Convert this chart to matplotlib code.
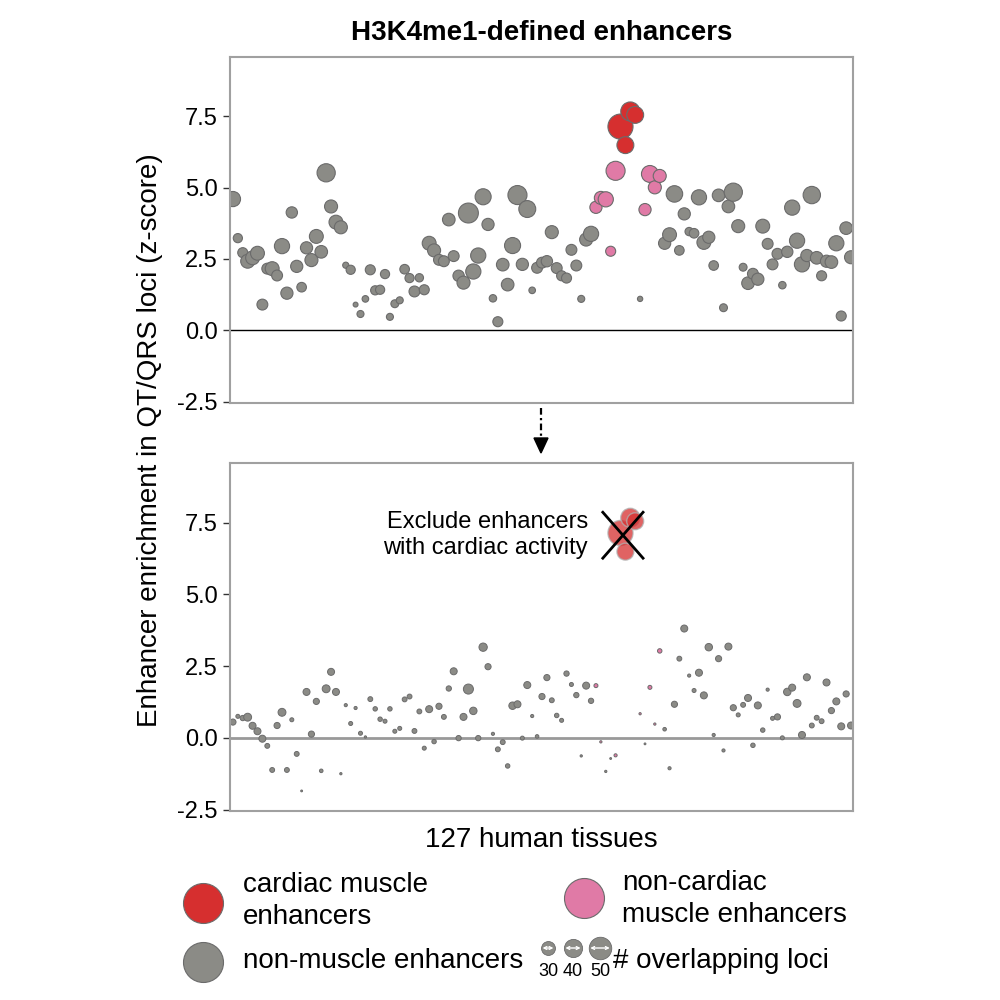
import matplotlib
matplotlib.use("Agg")
import matplotlib.pyplot as plt
import numpy as np
from matplotlib.lines import Line2D

plt.rcParams['font.family'] = ['Liberation Sans', 'DejaVu Sans']

# z-scores per tissue (127 tissues)
top_z = [4.60, 3.23, 2.72, 2.42, 2.54, 2.70, 0.90, 2.16, 2.16, 1.92,
         2.95, 1.30, 4.13, 2.24, 1.51, 2.89, 2.46, 3.29, 2.75, 5.52,
         4.34, 3.79, 3.61, 2.28, 2.12, 0.90, 0.57, 1.10, 2.12, 1.40,
         1.42, 1.97, 0.47, 0.93, 1.05, 2.14, 1.83, 1.36, 1.84, 1.42,
         3.05, 2.80, 2.47, 2.42, 3.88, 2.60, 1.91, 1.67, 4.11, 2.06,
         2.62, 4.68, 3.71, 1.12, 0.30, 2.30, 1.60, 2.97, 4.74, 2.31,
         4.25, 1.40, 2.19, 2.37, 2.42, 3.44, 2.18, 1.91, 1.83, 2.82,
         2.27, 1.10, 3.18, 3.38, 4.31, 4.64, 4.59, 2.77, 5.59, 7.14,
         6.49, 7.67, 7.55, 1.10, 4.23, 5.48, 5.01, 5.41, 3.05, 3.35,
         4.78, 2.80, 4.08, 3.46, 3.40, 4.66, 3.08, 3.26, 2.27, 4.73,
         0.79, 4.34, 4.84, 3.65, 2.21, 1.65, 1.98, 1.79, 3.65, 3.03,
         2.31, 2.68, 1.58, 2.75, 4.30, 3.14, 2.31, 2.62, 4.74, 2.54,
         1.91, 2.42, 2.39, 3.05, 0.50, 3.58, 2.56]
top_loci = [33, 19, 21, 30, 30, 30, 23, 23, 30, 23,
            33, 26, 24, 26, 20, 26, 28, 30, 27, 40,
            28, 30, 28, 12, 19, 9, 14, 13, 21, 19,
            19, 19, 14, 16, 14, 20, 19, 23, 17, 21,
            30, 28, 23, 23, 27, 23, 24, 28, 44, 33,
            33, 35, 26, 15, 21, 27, 27, 35, 42, 26,
            37, 13, 23, 23, 24, 28, 23, 21, 21, 23,
            23, 14, 28, 33, 26, 28, 33, 21, 42, 56,
            37, 42, 37, 10, 26, 37, 28, 28, 26, 30,
            36, 20, 26, 17, 20, 33, 30, 26, 20, 27,
            16, 27, 40, 28, 16, 27, 23, 26, 30, 23,
            23, 23, 15, 24, 33, 33, 33, 26, 38, 27,
            21, 26, 27, 33, 21, 27, 28]
top_cardiac = [79, 80, 81, 82]
top_muscle = [74, 75, 76, 77, 78, 84, 85, 86, 87]

# after excluding enhancers with cardiac activity (nan = excluded tissue)
bottom_z = [0.55, 0.75, 0.69, 0.72, 0.42, 0.23, -0.03, -0.28, -1.12, 0.43,
            0.89, -1.12, 0.63, -0.56, -1.85, 1.60, 0.13, 1.27, -1.15, 1.71,
            2.30, 1.60, -1.25, 1.14, 0.50, 1.04, 0.16, 0.03, 1.35, 1.01,
            0.65, 0.58, 1.01, 0.23, 0.33, 1.34, 1.44, 0.24, 0.92, -0.36,
            1.00, -0.13, 1.10, 0.73, 1.72, 2.32, -0.01, 0.73, 1.70, 0.94,
            -0.01, 3.16, 2.48, 0.14, -0.40, -0.15, -0.98, 1.12, 1.17, -0.01,
            1.84, 0.76, 0.05, 1.44, 2.10, 1.31, 0.78, 0.61, 2.24, 1.86,
            1.49, -0.63, 1.82, 1.29, 1.82, -0.14, -1.17, -0.72, -0.61, np.nan,
            np.nan, np.nan, np.nan, 0.84, -0.21, 1.76, 0.48, 3.03, 0.30, -1.06,
            1.17, 2.76, 3.81, 2.17, 1.65, 2.27, 1.48, 3.16, 0.10, 2.76,
            -0.44, 3.18, 1.05, 0.80, 1.15, 1.39, -0.26, 1.13, 0.27, 1.68,
            0.68, 0.73, 0.00, 1.60, 1.75, 1.20, 0.10, 2.11, 0.43, 0.70,
            0.58, 1.93, 0.95, 1.27, 0.40, 1.53, 0.43]
bottom_loci = [12, 7, 10, 16, 14, 14, 14, 9, 9, 12,
               16, 9, 7, 9, 2, 14, 12, 12, 6, 16,
               14, 14, 3, 5, 7, 5, 7, 3, 9, 8,
               8, 7, 8, 7, 7, 9, 9, 9, 9, 7,
               14, 8, 12, 9, 10, 14, 10, 14, 21, 15,
               10, 17, 12, 5, 9, 9, 8, 15, 14, 7,
               14, 5, 6, 12, 12, 9, 8, 7, 10, 7,
               10, 3, 14, 10, 7, 3, 3, 2, 5, 0,
               0, 0, 0, 3, 2, 7, 3, 8, 6, 5,
               12, 9, 14, 5, 7, 14, 14, 15, 5, 12,
               5, 14, 12, 7, 9, 14, 8, 14, 8, 5,
               7, 12, 7, 15, 14, 16, 14, 14, 9, 9,
               9, 14, 12, 14, 14, 12, 14]
bottom_muscle = [74, 75, 78, 83, 85, 86, 87]

legend_loci = [30, 40, 50]

GRAY = '#8b8b86'
RED = '#d62f2f'
PINK = '#e07aa6'
EDGE = '#6b6b6b'


def marker_area(loci):
    # circle diameter in px grows linearly with # overlapping loci
    d_px = 1 + 0.43 * np.asarray(loci, dtype=float)
    return (d_px * 0.72) ** 2


def colors_for(n, muscle, cardiac=()):
    c = [GRAY] * n
    for i in muscle:
        c[i] = PINK
    for i in cardiac:
        c[i] = RED
    return c


x = np.arange(len(top_z))
top_z = np.array(top_z)
bottom_z = np.array(bottom_z)

fig = plt.figure(figsize=(10, 10), dpi=100)
ax1 = fig.add_axes([0.23, 0.597, 0.623, 0.346])
ax2 = fig.add_axes([0.23, 0.189, 0.623, 0.348])

for ax in (ax1, ax2):
    ax.set_xlim(-0.6, 126.4)
    ax.set_ylim(-2.55, 9.58)
    ax.set_yticks([-2.5, 0.0, 2.5, 5.0, 7.5])
    ax.set_yticklabels(['-2.5', '0.0', '2.5', '5.0', '7.5'])
    ax.set_xticks([])
    ax.tick_params(axis='y', length=5, width=1, color='#333333',
                   labelsize=17, pad=4)
    for s in ax.spines.values():
        s.set_color('#a0a0a0')
        s.set_linewidth(1.5)

# top panel
ax1.axhline(0, color='black', lw=1, zorder=1)
ax1.scatter(x, top_z, s=marker_area(top_loci),
            c=colors_for(len(x), top_muscle, top_cardiac),
            edgecolors=EDGE, linewidths=0.8, zorder=2)

# bottom panel
ax2.axhline(0, color='#999999', lw=2, zorder=1)
keep = ~np.isnan(bottom_z)
bcol = np.array(colors_for(len(x), bottom_muscle))
ax2.scatter(x[keep], bottom_z[keep], s=marker_area(np.array(bottom_loci)[keep]),
            c=bcol[keep], edgecolors=EDGE, linewidths=0.7, zorder=2)

# excluded cardiac enhancers, faded and crossed out
cx = x[top_cardiac]
cz = top_z[top_cardiac]
ax2.scatter(cx, cz, s=marker_area(np.array(top_loci)[top_cardiac]),
            c=RED, alpha=0.75, edgecolors='#b0b0b0', linewidths=1, zorder=3)
mx, mz = cx.mean() - 1.0, cz.mean() - 0.15
ax2.plot([mx - 4.1, mx + 4.1], [mz + 0.8, mz - 0.8], color='black', lw=2, zorder=4)
ax2.plot([mx - 4.1, mx + 4.1], [mz - 0.8, mz + 0.8], color='black', lw=2, zorder=4)
ax2.text(mx - 7.1, mz + 0.0, 'Exclude enhancers\nwith cardiac activity',
         ha='right', va='center', fontsize=17, linespacing=1.25)

# titles and labels
fig.text(0.5415, 0.967, 'H3K4me1-defined enhancers', ha='center', va='center',
         fontsize=20, fontweight='bold')
fig.text(0.150, 0.56, 'Enhancer enrichment in QT/QRS loci (z-score)',
         rotation=90, ha='center', va='center', fontsize=20)
fig.text(0.5415, 0.160, '127 human tissues', ha='center', va='center', fontsize=20)

# dashed arrow between the panels
fig.add_artist(Line2D([0.541, 0.541], [0.592, 0.560], color='black', lw=1.6,
                      linestyle=(0, (3, 1.5, 1, 1.5))))
fig.add_artist(plt.Polygon([[0.534, 0.562], [0.548, 0.562], [0.541, 0.547]],
                           closed=True, color='black', transform=fig.transFigure))

# legend
leg = fig.add_axes([0, 0, 1, 1])
leg.set_xlim(0, 1000)
leg.set_ylim(1000, 0)
leg.axis('off')
big = (40 * 0.72) ** 2
leg.scatter([203], [903], s=big, c=RED, edgecolors=EDGE, linewidths=0.8)
leg.scatter([584], [898], s=big, c=PINK, edgecolors=EDGE, linewidths=0.8)
leg.scatter([203], [962], s=big, c=GRAY, edgecolors=EDGE, linewidths=0.8)
leg.text(243, 901, 'cardiac muscle\nenhancers', ha='left', va='center',
         fontsize=20, linespacing=1.3)
leg.text(622, 899, 'non-cardiac\nmuscle enhancers', ha='left', va='center',
         fontsize=20, linespacing=1.3)
leg.text(243, 961, 'non-muscle enhancers', ha='left', va='center', fontsize=20)
kx = [548, 573, 600]
for xx, lc in zip(kx, legend_loci):
    d = 1 + 0.43 * lc
    leg.scatter([xx], [948], s=marker_area([lc]), c=GRAY, edgecolors=EDGE,
                linewidths=0.6)
    leg.annotate('', xy=(xx + d / 2 - 1.5, 948), xytext=(xx - d / 2 + 1.5, 948),
                 arrowprops=dict(arrowstyle='<->', color='white', lw=1,
                                 shrinkA=0, shrinkB=0, mutation_scale=5))
    leg.text(xx, 972, str(lc), ha='center', va='center', fontsize=13,
             family=['Liberation Sans Narrow', 'Liberation Sans'])
leg.text(613, 961, '# overlapping loci', ha='left', va='center', fontsize=20)

fig.savefig('out.png', dpi=100)
